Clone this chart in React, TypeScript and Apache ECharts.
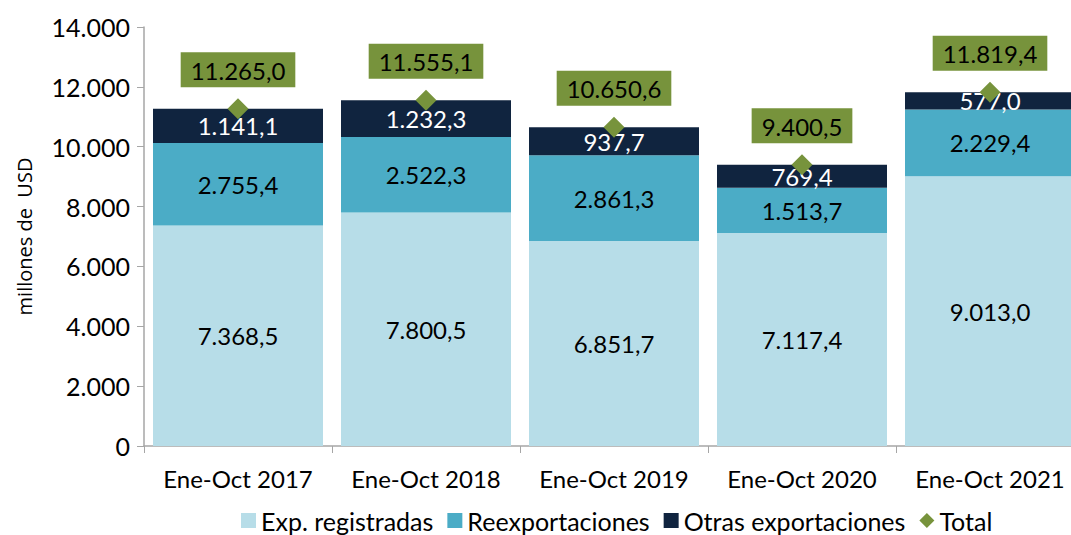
import React, { useEffect, useRef } from "react";
import * as echarts from "echarts";

const categories = ["Ene-Oct 2017", "Ene-Oct 2018", "Ene-Oct 2019", "Ene-Oct 2020", "Ene-Oct 2021"];
const expRegistradas = [7368.5, 7800.5, 6851.7, 7117.4, 9013.0];
const reexportaciones = [2755.4, 2522.3, 2861.3, 1513.7, 2229.4];
const otrasExportaciones = [1141.1, 1232.3, 937.7, 769.4, 577.0];
const total = [11265.0, 11555.1, 10650.6, 9400.5, 11819.4];

const FONT = "Lato, 'Open Sans', sans-serif";

function fmt(v: number, dec: number): string {
  const fixed = v.toFixed(dec);
  const [intPart, decPart] = fixed.split(".");
  const withSep = intPart.replace(/\B(?=(\d{3})+(?!\d))/g, ".");
  return decPart !== undefined ? withSep + "," + decPart : withSep;
}

export default function App() {
  const ref = useRef<HTMLDivElement>(null);
  useEffect(() => {
    if (!ref.current) return;
    const chart = echarts.init(ref.current, undefined, { renderer: "svg" });
    const barLabel = (color: string) => ({
      show: true,
      position: "inside" as const,
      color,
      fontSize: 24,
      fontFamily: FONT,
      formatter: (p: any) => fmt(p.value, 1),
    });
    chart.setOption({
      animation: false,
      textStyle: { fontFamily: FONT },
      grid: { left: 144, top: 27, width: 940, height: 419 },
      legend: {
        bottom: -3,
        left: 236,
        itemWidth: 15,
        itemHeight: 15,
        itemGap: 14,
        textStyle: { fontSize: 25, color: "#000", fontFamily: FONT },
        data: [
          { name: "Exp. registradas", icon: "rect" },
          { name: "Reexportaciones", icon: "rect" },
          { name: "Otras exportaciones", icon: "rect" },
          { name: "Total", icon: "diamond" },
        ],
      },
      xAxis: {
        type: "category",
        data: categories,
        axisLine: { lineStyle: { color: "#a6a6a6", width: 1.5 } },
        axisTick: { show: true, alignWithLabel: false, length: 7, lineStyle: { color: "#a6a6a6" } },
        axisLabel: { fontSize: 24, color: "#000", margin: 20, fontFamily: FONT, interval: 0 },
      },
      yAxis: {
        type: "value",
        min: 0,
        max: 14000,
        interval: 2000,
        name: "millones de  USD",
        nameLocation: "middle",
        nameGap: 110,
        nameTextStyle: { fontSize: 20, color: "#000", fontFamily: "'Open Sans', sans-serif" },
        axisLine: { show: true, lineStyle: { color: "#a6a6a6", width: 1.5 } },
        axisTick: { show: true, length: 7, lineStyle: { color: "#a6a6a6" } },
        splitLine: { show: false },
        axisLabel: { fontSize: 25, color: "#000", margin: 14, fontFamily: FONT, formatter: (v: number) => fmt(v, 0) },
      },
      series: [
        {
          name: "Exp. registradas",
          type: "bar",
          stack: "a",
          barWidth: 170,
          data: expRegistradas,
          itemStyle: { color: "#b7dde8" },
          label: barLabel("#000"),
        },
        {
          name: "Reexportaciones",
          type: "bar",
          stack: "a",
          barWidth: 170,
          data: reexportaciones,
          itemStyle: { color: "#4bacc6" },
          label: barLabel("#000"),
        },
        {
          name: "Otras exportaciones",
          type: "bar",
          stack: "a",
          barWidth: 170,
          data: otrasExportaciones,
          itemStyle: { color: "#10243f" },
          label: barLabel("#fff"),
        },
        {
          name: "Total",
          type: "line",
          data: total,
          symbol: "diamond",
          symbolSize: 21,
          lineStyle: { width: 0, opacity: 0 },
          itemStyle: { color: "#77933c" },
          z: 5,
          label: {
            show: true,
            position: "top",
            distance: 11,
            color: "#000",
            fontSize: 24,
            fontFamily: FONT,
            backgroundColor: "#77933c",
            padding: [6, 10, 5, 10],
            formatter: (p: any) => fmt(p.value, 1),
          },
        },
      ],
    });
    return () => chart.dispose();
  }, []);
  return (
    <div style={{ width: 1071, height: 535, position: "absolute", left: 0, top: 0, overflow: "hidden" }}>
      <div ref={ref} style={{ width: 1100, height: 535 }} />
    </div>
  );
}
